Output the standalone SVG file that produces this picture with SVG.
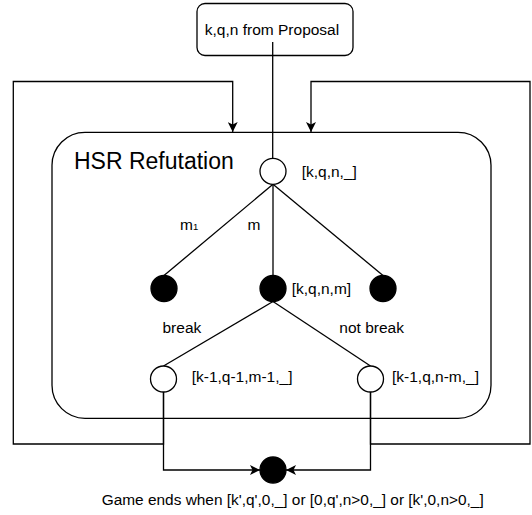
<svg xmlns="http://www.w3.org/2000/svg" width="532" height="515" viewBox="0 0 532 515">
<style>
text{font-family:"Liberation Sans",Arial,Helvetica,sans-serif;font-size:15.5px;fill:#000}
.big{font-size:23px}
.edge{fill:none;stroke:#000;stroke-width:1.3}
.open{fill:#fff;stroke:#000;stroke-width:1.3}
.solid{fill:#000;stroke:#000;stroke-width:1.3}
.box{fill:#fff;stroke:#000;stroke-width:1.3}
</style>
<defs>
<marker id="arr" viewBox="0 0 10 10" refX="10" refY="5" markerWidth="10" markerHeight="10" markerUnits="userSpaceOnUse" orient="auto">
<path d="M0,0 L10,5 L0,10 L2.5,5 z" fill="#000"/>
</marker>
</defs>
<g id="hsr-container">
<rect class="box" x="52" y="132.3" width="439" height="286" rx="33" ry="33"/>
<text class="big" x="74" y="169">HSR Refutation</text>
</g>
<g id="proposal">
<rect class="box" x="197" y="3.5" width="156" height="52" rx="8" ry="8"/>
<text x="272" y="35" text-anchor="middle">k,q,n from Proposal</text>
</g>
<g id="connectors">
<path class="edge" d="M272.7,42 V158.3"/>
<path class="edge" d="M273,184.3 L164,275.5"/>
<path class="edge" d="M273,184.3 V275.5"/>
<path class="edge" d="M273,184.3 L383,275.5"/>
<path class="edge" d="M273,301.5 L163.5,366"/>
<path class="edge" d="M273,301.5 L370.5,366"/>
<path class="edge" d="M163.5,392 V444 H13.3 V81.5 H232.7 V132" marker-end="url(#arr)"/>
<path class="edge" d="M370.5,392 V444 H530 V81.5 H311 V132" marker-end="url(#arr)"/>
<path class="edge" d="M163.5,392 V470 H260" marker-end="url(#arr)"/>
<path class="edge" d="M370.5,392 V470 H286" marker-end="url(#arr)"/>
<text x="180" y="230">m<tspan font-size="9.5">1</tspan></text>
<text x="247.5" y="230">m</text>
<text x="162.5" y="333">break</text>
<text x="339.3" y="333">not break</text>
</g>
<g id="root">
<circle class="open" cx="273" cy="171.3" r="13"/>
<text x="301.7" y="176.7">[k,q,n,_]</text>
</g>
<g id="choice-left">
<circle class="solid" cx="164" cy="288.5" r="13"/>
</g>
<g id="choice-m">
<circle class="solid" cx="273" cy="288.5" r="13"/>
<text x="291.7" y="294.3">[k,q,n,m]</text>
</g>
<g id="choice-right">
<circle class="solid" cx="383" cy="288.5" r="13"/>
</g>
<g id="state-break">
<circle class="open" cx="163.5" cy="379" r="13"/>
<text x="191.7" y="381.5">[k-1,q-1,m-1,_]</text>
</g>
<g id="state-notbreak">
<circle class="open" cx="370.5" cy="379" r="13"/>
<text x="392" y="381.5">[k-1,q,n-m,_]</text>
</g>
<g id="end">
<circle class="solid" cx="273" cy="470" r="13"/>
<text x="101.7" y="505" textLength="382" lengthAdjust="spacingAndGlyphs">Game ends when [k',q',0,_] or [0,q',n&gt;0,_] or [k',0,n&gt;0,_]</text>
</g>
</svg>
